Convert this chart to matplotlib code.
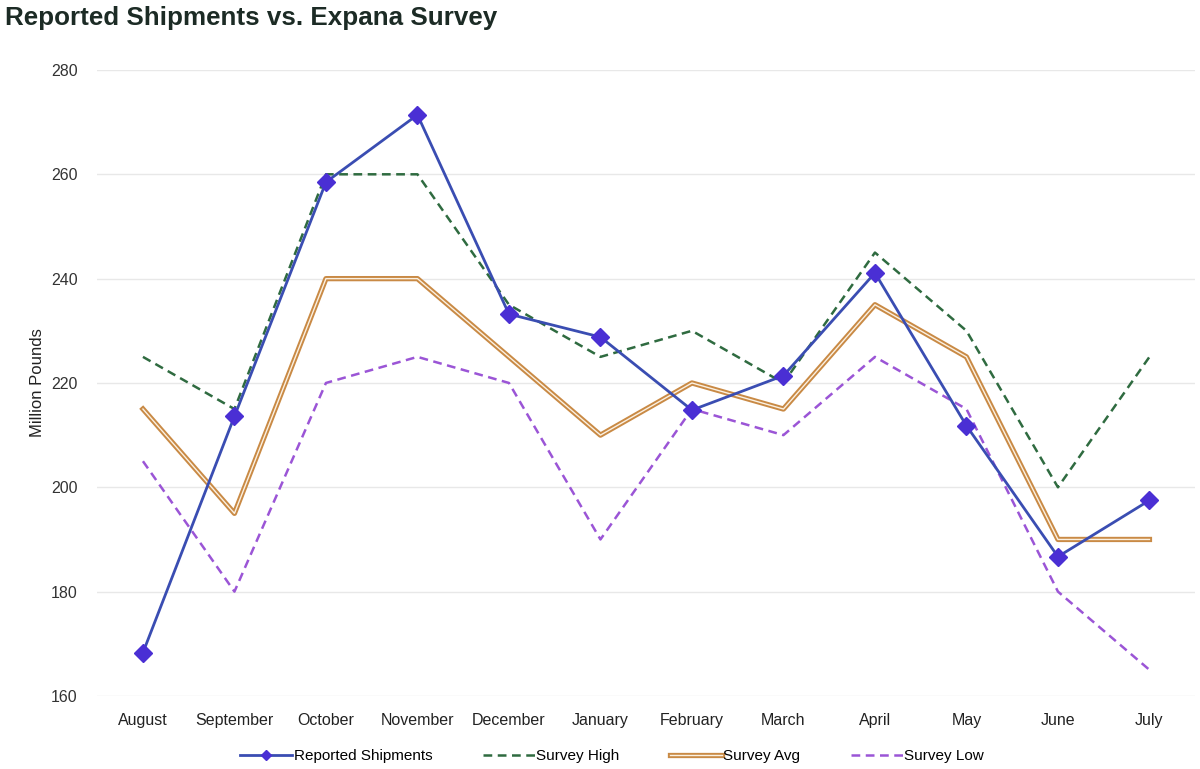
import matplotlib
matplotlib.use("Agg")
import matplotlib.pyplot as plt
import matplotlib.patheffects as pe

months = ["August", "September", "October", "November", "December", "January",
          "February", "March", "April", "May", "June", "July"]
reported = [168.3, 213.6, 258.5, 271.4, 233.2, 228.8, 214.8, 221.4, 241.1, 211.8, 186.7, 197.5]
survey_high = [225, 215, 260, 260, 235, 225, 230, 220, 245, 230, 200, 225]
survey_avg = [215, 195, 240, 240, 225, 210, 220, 215, 235, 225, 190, 190]
survey_low = [205, 180, 220, 225, 220, 190, 215, 210, 225, 215, 180, 165]
yticks = [160, 180, 200, 220, 240, 260, 280]

plt.rcParams['font.family'] = ['Liberation Sans', 'DejaVu Sans']

fig = plt.figure(figsize=(12, 7.69), dpi=100)
ax = fig.add_axes([0.081, 0.095, 0.915, 0.814])

x = list(range(len(months)))
ax.plot(x, survey_high, color='#2f6b40', lw=1.8, ls=(0, (3.5, 2.2)), label='Survey High', zorder=3)
ax.plot(x, survey_avg, color='#fbf1e2', lw=1.0, label='Survey Avg', zorder=3,
        path_effects=[pe.Stroke(linewidth=3.8, foreground='#c98a45'), pe.Normal()])
ax.plot(x, survey_low, color='#9b55d6', lw=1.8, ls=(0, (3.5, 2.2)), label='Survey Low', zorder=3)
ax.plot(x, reported, color='#3a4db2', lw=2, marker='D', markersize=9,
        markerfacecolor='#4a2fd4', markeredgecolor='#4a2fd4', label='Reported Shipments', zorder=4)

ax.set_xlim(-0.5, len(months) - 0.5)
ax.set_ylim(160, 280)
ax.set_yticks(yticks)
ax.set_xticks(x)
ax.set_xticklabels(months, fontsize=11.5, color='#222222')
ax.tick_params(axis='y', labelsize=11.5, colors='#333333', length=0, pad=14)
ax.tick_params(axis='x', length=0, pad=12)
ax.grid(axis='y', color='#e8e8e8', lw=1)
ax.set_axisbelow(True)
for s in ax.spines.values():
    s.set_visible(False)
ax.set_ylabel('Million Pounds', fontsize=12, color='#222222', labelpad=4)

h, l = ax.get_legend_handles_labels()
order = [3, 0, 1, 2]
fig.legend([h[i] for i in order], [l[i] for i in order], loc='center',
           bbox_to_anchor=(0.51, 0.017), ncol=4, frameon=False, fontsize=11,
           handlelength=3.4, handletextpad=0.1, columnspacing=3.3, markerscale=0.6)

fig.text(0.004, 0.976, 'Reported Shipments vs. Expana Survey', fontsize=18.7,
         fontweight='bold', color='#1c2b25', va='center', ha='left')

fig.savefig('out.png', dpi=100, facecolor='white')
